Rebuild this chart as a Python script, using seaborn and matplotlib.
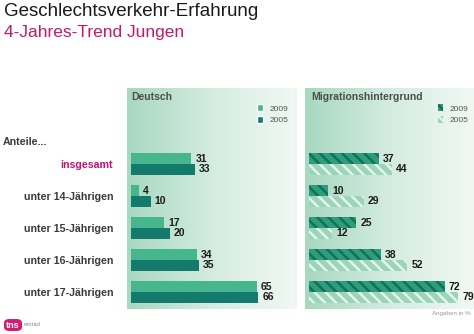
import numpy as np
import pandas as pd
import matplotlib
matplotlib.use("Agg")
import matplotlib.pyplot as plt
import seaborn as sns
from matplotlib.patches import Patch, FancyBboxPatch
from matplotlib.colors import LinearSegmentedColormap

categories = ["insgesamt", "unter 14-Jährigen", "unter 15-Jährigen", "unter 16-Jährigen", "unter 17-Jährigen"]
years = ["2009", "2005"]
deutsch_2009 = [31, 4, 17, 34, 65]
deutsch_2005 = [33, 10, 20, 35, 66]
migration_2009 = [37, 10, 25, 38, 72]
migration_2005 = [44, 29, 12, 52, 79]

sns.set_style("white")
plt.rcParams["font.family"] = ["Liberation Sans", "DejaVu Sans"]
plt.rcParams["hatch.linewidth"] = 1.8

W, H = 474, 334
fig = plt.figure(figsize=(W / 100, H / 100), dpi=100)
fig.patch.set_facecolor("white")

def frame(d2009, d2005):
    return pd.DataFrame({
        "cat": categories * 2,
        "year": [years[0]] * len(categories) + [years[1]] * len(categories),
        "value": list(d2009) + list(d2005),
    })

def gradient(ax):
    grad = np.linspace(0, 1, 256).reshape(1, -1)
    cmap = LinearSegmentedColormap.from_list("g", ["#a7d8c0", "#d4ece0", "#f1f8f4"])
    ax.imshow(grad, extent=[0, 1, 0, 1], transform=ax.transAxes, aspect="auto",
              cmap=cmap, zorder=0, interpolation="bicubic")

def px_axes(x0, x1, y0, y1):
    return fig.add_axes([x0 / W, 1 - y1 / H, (x1 - x0) / W, (y1 - y0) / H])

ax1 = px_axes(127, 297, 88, 309)
ax2 = px_axes(305, 474, 88, 309)

d_cols = ["#45b68e", "#157a6e"]
m_face = ["#2f9c7a", "#9bd5b8"]
m_hatch = ["#12705c", "#e4f3eb"]

for ax, d2009, d2005, pal, xmax in [(ax1, deutsch_2009, deutsch_2005, d_cols, 86),
                                      (ax2, migration_2009, migration_2005, m_face, 87.5)]:
    gradient(ax)
    sns.barplot(data=frame(d2009, d2005), y="cat", x="value", hue="year",
                hue_order=years, order=categories, orient="h", palette=pal,
                width=0.68, ax=ax, legend=False, saturation=1, zorder=2,
                linewidth=0)
    ax.set_xlim(-2.3, xmax)
    ax.set_ylim(4.53, -2.375)
    for s in ax.spines.values():
        s.set_visible(False)
    ax.set_xticks([])
    ax.set_xlabel("")
    ax.set_ylabel("")
    for c in ax.containers:
        ax.bar_label(c, padding=3, fontsize=7.5, fontweight="bold", color="#1a1a1a")

# hatching for migration panel
for i, c in enumerate(ax2.containers):
    for p in c:
        p.set_hatch("\\\\\\")
        p.set_edgecolor(m_hatch[i])
        p.set_linewidth(0)

ax2.set_yticks([])
ax1.tick_params(axis="y", length=0, pad=10)
for lab in ax1.get_yticklabels():
    lab.set_fontweight("bold")
    lab.set_fontsize(7.7)
    lab.set_color("#c2116f" if lab.get_text() == "insgesamt" else "#3a3a3a")

# panel titles
ax1.text(4 / 170, 1 - 9 / 221, "Deutsch", transform=ax1.transAxes, fontsize=7.5,
         fontweight="bold", color="#4d4d4d", va="center", ha="left")
ax2.text(6 / 169, 1 - 9 / 221, "Migrationshintergrund", transform=ax2.transAxes, fontsize=7.5,
         fontweight="bold", color="#4d4d4d", va="center", ha="left")

# legends
h1 = [Patch(facecolor=d_cols[0], label="2009"), Patch(facecolor=d_cols[1], label="2005")]
ax1.legend(handles=h1, loc="upper left", bbox_to_anchor=(0.72, 0.96), frameon=False,
           fontsize=6, handlelength=0.7, handleheight=0.9, handletextpad=0.8,
           labelspacing=0.35, labelcolor="#555555")
h2 = [Patch(facecolor=m_face[0], edgecolor=m_hatch[0], hatch="\\\\\\", linewidth=0, label="2009"),
      Patch(facecolor=m_face[1], edgecolor=m_hatch[1], hatch="\\\\\\", linewidth=0, label="2005")]
ax2.legend(handles=h2, loc="upper left", bbox_to_anchor=(0.74, 0.96), frameon=False,
           fontsize=6, handlelength=0.7, handleheight=0.9, handletextpad=0.8,
           labelspacing=0.35, labelcolor="#555555")

# titles
fig.text(4 / W, 1 - 12 / H, "Geschlechtsverkehr-Erfahrung", fontsize=13.5, color="#1a1a1a",
         va="center", ha="left")
fig.text(4 / W, 1 - 33 / H, "4-Jahres-Trend Jungen", fontsize=12.5, color="#c2186e",
         va="center", ha="left")
fig.text(3 / W, 1 - 142 / H, "Anteile...", fontsize=7.7, fontweight="bold", color="#3a3a3a",
         va="center", ha="left")
fig.text(471 / W, 1 - 313 / H, "Angaben in %", fontsize=4.5, color="#9a9a9a",
         va="center", ha="right")

# logo
logo = FancyBboxPatch((4 / W, 1 - 331 / H), 18 / W, 12 / H,
                      boxstyle="round,pad=0,rounding_size=0.012",
                      transform=fig.transFigure, facecolor="#d81a72", edgecolor="none")
fig.patches.append(logo)
fig.text(6 / W, 1 - 325 / H, "tns", fontsize=6.5, fontweight="bold", color="white",
         va="center", ha="left")
fig.text(24 / W, 1 - 325 / H, "emnid", fontsize=4.5, color="#8a8a8a", va="center", ha="left")

fig.savefig("out.png", dpi=100)
